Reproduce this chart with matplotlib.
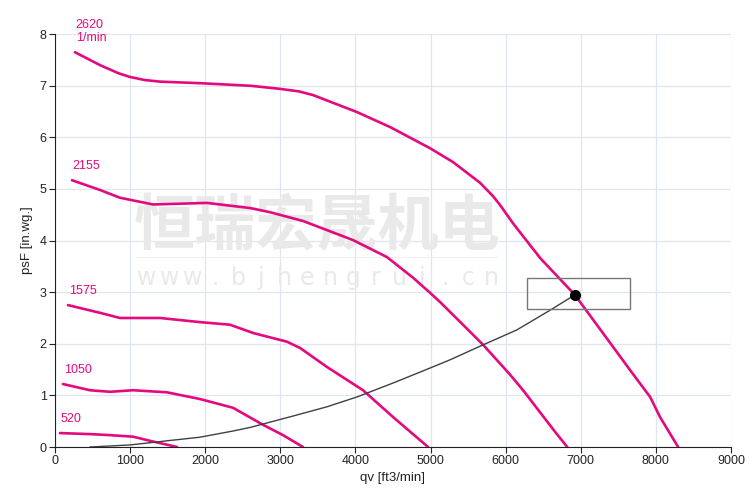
import numpy as np
import matplotlib
matplotlib.use('Agg')
import matplotlib.pyplot as plt
from matplotlib.patches import Rectangle

plt.rcParams['font.family'] = ['Liberation Sans', 'DejaVu Sans']
plt.rcParams['font.size'] = 9

# fan curves (qv in ft3/min, psF in in.wg.)
q_2620 = [266, 600, 850, 1000, 1200, 1400, 1930, 2600, 2996, 3250, 3435,
          4021, 4461, 4993, 5300, 5659, 5832, 5930, 6100, 6460, 6920, 7430,
          7656, 7923, 8055, 8296]
p_2620 = [7.65, 7.40, 7.24, 7.17, 7.11, 7.08, 7.05, 7.00, 6.94, 6.89, 6.82,
          6.49, 6.20, 5.79, 5.52, 5.12, 4.86, 4.68, 4.33, 3.66, 2.95, 1.94,
          1.49, 0.97, 0.58, 0.0]

q_2155 = [226, 600, 866, 1305, 2024, 2600, 2863, 3302, 3968, 4420, 4767,
          5000, 5126, 5390, 5700, 6060, 6232, 6390, 6660, 6820]
p_2155 = [5.17, 4.98, 4.83, 4.70, 4.73, 4.63, 4.55, 4.38, 4.01, 3.68, 3.28,
          2.98, 2.81, 2.43, 1.98, 1.40, 1.10, 0.80, 0.29, 0.0]

q_1575 = [173, 600, 866, 1400, 1930, 2330, 2636, 3089, 3262, 3622, 4101,
          4501, 4967]
p_1575 = [2.75, 2.60, 2.50, 2.50, 2.42, 2.37, 2.21, 2.04, 1.92, 1.55, 1.10,
          0.58, 0.0]

q_1050 = [107, 466, 733, 1040, 1490, 1930, 2370, 2770, 3036, 3302]
p_1050 = [1.22, 1.10, 1.07, 1.10, 1.06, 0.93, 0.76, 0.43, 0.23, 0.0]

q_520 = [67, 466, 733, 1040, 1265, 1625]
p_520 = [0.27, 0.25, 0.23, 0.20, 0.12, 0.0]

# system curve
q_sys = [466, 1000, 1490, 1930, 2370, 2600, 3169, 3622, 4021, 4501, 4993,
         5260, 5700, 6150, 6590, 6924]
p_sys = [0.0, 0.04, 0.12, 0.19, 0.31, 0.38, 0.60, 0.78, 0.97, 1.24, 1.53,
         1.69, 1.98, 2.27, 2.65, 2.95]

op_q, op_p = 6924, 2.95
box_q = [6285, 7656]
box_p = [2.67, 3.27]

curves = [(q_2620, p_2620, '2620\n1/min'), (q_2155, p_2155, '2155'),
          (q_1575, p_1575, '1575'), (q_1050, p_1050, '1050'),
          (q_520, p_520, '520')]

magenta = '#e5097f'
wm_grey = '#e9e9e9'

fig = plt.figure(figsize=(7.5, 4.88), dpi=100)
ax = fig.add_axes([0.0733, 0.084, 0.9014, 0.846])

ax.set_xlim(0, 9000)
ax.set_ylim(0, 8)
ax.set_xticks(range(0, 9001, 1000))
ax.set_yticks(range(0, 9))
ax.grid(True, color='#dfe6ef', linewidth=0.9)
ax.set_axisbelow(True)
for s in ['top', 'right']:
    ax.spines[s].set_visible(False)
ax.spines['left'].set_color('#222222')
ax.spines['bottom'].set_color('#222222')
ax.tick_params(length=4, color='#222222', labelcolor='#222222', pad=2)

# watermark
ax.text(0.388, 0.533, '恒瑞宏晟机电', transform=ax.transAxes,
        family=['Noto Sans CJK SC'], fontweight='bold', fontsize=44,
        color=wm_grey, ha='center', va='center', zorder=1)
ax.plot([0.121, 0.654], [0.46, 0.46], transform=ax.transAxes,
        color='#f0f0f0', linewidth=0.8, zorder=1)
url = 'www.bjhengrui.cn'
for k, ch in enumerate(url):
    xf = 0.135 + k * (0.645 - 0.135) / (len(url) - 1)
    ax.text(xf, 0.41, ch, transform=ax.transAxes, family=['DejaVu Sans'],
            fontsize=17, color=wm_grey, ha='center', va='center', zorder=1)

for q, p, lab in curves:
    ax.plot(q, p, color=magenta, linewidth=1.9, zorder=3,
            solid_capstyle='round', solid_joinstyle='round')
    ax.text(q[0] + 10, p[0] + 0.15, lab, color=magenta, fontsize=9,
            ha='left', va='bottom', linespacing=1.15, zorder=4)

ax.plot(q_sys, p_sys, color='#404040', linewidth=1, zorder=4)
ax.add_patch(Rectangle((box_q[0], box_p[0]), box_q[1] - box_q[0],
                       box_p[1] - box_p[0], fill=False, edgecolor='#777777',
                       linewidth=1, zorder=4))
ax.plot([op_q], [op_p], 'o', color='black', markersize=7, zorder=5)

ax.set_xlabel('qv [ft3/min]', fontsize=9.5, color='#222222', labelpad=3)
ax.set_ylabel('psF [in.wg.]', fontsize=9.5, color='#222222', labelpad=5)

fig.savefig('out.png', dpi=100)
